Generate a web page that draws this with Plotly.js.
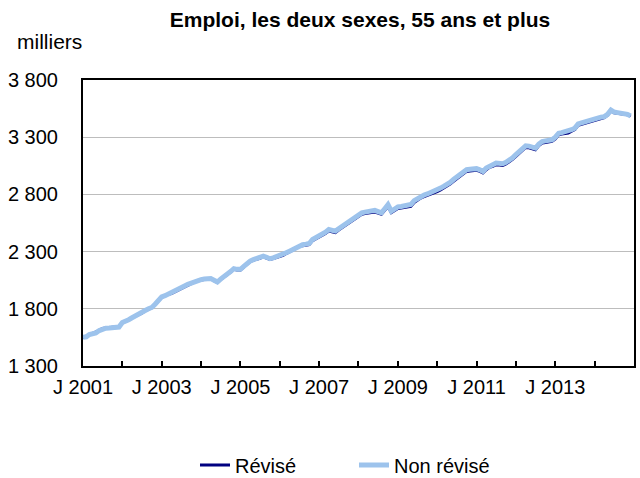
<!DOCTYPE html>
<html>
<head>
<meta charset="utf-8">
<script src="https://cdn.plot.ly/plotly-3.0.1.min.js"></script>
<style>html,body{margin:0;padding:0;background:#fff;}#chart{width:640px;height:478px;}</style>
</head>
<body>
<div id="chart"></div>
<script>
// Monthly values, January 2001 to December 2014 (thousands)
const nonRevise = [
  1550,1555,1575,1580,1590,1610,1625,1630,1632,1638,1636,1640,
  1680,1690,1705,1722,1735,1750,1765,1785,1800,1812,1840,1870,
  1905,1915,1930,1936,1950,1970,1985,2000,2014,2025,2040,2050,
  2055,2060,2062,2064,2050,2034,2060,2087,2105,2125,2151,2145,
  2145,2170,2195,2217,2230,2238,2245,2261,2250,2238,2245,2255,
  2261,2275,2290,2304,2320,2338,2354,2360,2365,2371,2406,2420,
  2440,2455,2470,2493,2488,2479,2500,2520,2545,2566,2585,2600,
  2620,2639,2645,2650,2655,2661,2650,2639,2675,2711,2653,2670,
  2691,2695,2700,2705,2711,2745,2765,2783,2795,2804,2815,2827,
  2840,2855,2870,2885,2905,2930,2952,2975,2995,3016,3020,3022,
  3025,3015,3001,3030,3051,3060,3074,3070,3068,3080,3097,3120,
  3147,3175,3200,3225,3222,3215,3205,3240,3262,3268,3272,3277,
  3300,3335,3340,3345,3349,3365,3379,3416,3425,3435,3445,3451,
  3460,3470,3475,3480,3500,3538,3520,3515,3512,3509,3500,3486
];
const revise = [
  1548,1558,1572,1585,1595,1612,1628,1632,1630,1640,1638,1645,
  1678,1688,1702,1720,1732,1748,1762,1782,1798,1810,1838,1868,
  1900,1912,1926,1934,1948,1966,1982,1998,2010,2022,2038,2048,
  2052,2058,2060,2062,2046,2030,2056,2082,2100,2120,2146,2140,
  2140,2165,2190,2212,2225,2233,2240,2255,2244,2232,2240,2250,
  2255,2268,2283,2296,2312,2330,2345,2352,2356,2362,2396,2410,
  2430,2444,2458,2480,2476,2466,2488,2508,2532,2553,2572,2588,
  2607,2626,2632,2636,2640,2646,2636,2626,2660,2696,2640,2656,
  2676,2680,2686,2690,2696,2730,2750,2768,2780,2790,2800,2812,
  2825,2840,2855,2870,2890,2915,2937,2960,2980,3001,3005,3008,
  3010,3001,2988,3016,3037,3046,3060,3056,3053,3066,3083,3106,
  3133,3160,3186,3210,3208,3200,3190,3226,3248,3254,3258,3263,
  3286,3321,3327,3332,3336,3352,3366,3403,3412,3422,3432,3440,
  3450,3460,3466,3472,3492,3530,3514,3510,3508,3505,3497,3483
];
const startYear = 2001;
const years = [2001,2002,2003,2004,2005,2006,2007,2008,2009,2010,2011,2012,2013,2014,2015];
const xTickLabels = ["J 2001","","J 2003","","J 2005","","J 2007","","J 2009","","J 2011","","J 2013","",""];
const yTickVals = [1300,1800,2300,2800,3300,3800];
const yTickLabels = ["1 300","1 800","2 300","2 800","3 300","3 800"];

const months = revise.map((v,i)=>{
  const y = startYear + Math.floor(i/12);
  const m = (i%12)+1;
  return y + "-" + String(m).padStart(2,"0") + "-01";
});
const xTickVals = years.map(y => y + "-01-01");

const FONT = "Liberation Sans, Arial, sans-serif";

const traces = [
  {x: months, y: revise, type: "scatter", mode: "lines", name: "Révisé",
   line: {color: "#000080", width: 3}},
  {x: months, y: nonRevise, type: "scatter", mode: "lines", name: "Non révisé",
   line: {color: "#9dc3ec", width: 5}}
];

const layout = {
  width: 640, height: 478,
  margin: {l: 83, r: 6, t: 80, b: 112},
  paper_bgcolor: "#fff", plot_bgcolor: "#fff",
  font: {family: FONT, size: 20, color: "#000"},
  title: {text: "<b>Emploi, les deux sexes, 55 ans et plus</b>", font: {family: FONT, size: 21, color: "#000"},
          x: 360/640, xanchor: "center", xref: "container", y: 1 - 20/478, yanchor: "middle", yref: "container"},
  xaxis: {
    type: "date", range: ["2001-01-01", "2015-01-01"],
    tickvals: xTickVals, ticktext: xTickLabels,
    ticks: "inside", ticklen: 5, tickwidth: 2, tickcolor: "#000",
    showline: true, linecolor: "#000", linewidth: 2, mirror: true,
    showgrid: false, zeroline: false, ticklabelstandoff: 2,
    tickfont: {family: FONT, size: 20, color: "#000"}
  },
  yaxis: {
    range: [1300, 3800], tickvals: yTickVals, ticktext: yTickLabels,
    ticks: "", showline: true, linecolor: "#000", linewidth: 2, mirror: true,
    showgrid: true, gridcolor: "#bdbdbd", gridwidth: 1, zeroline: false,
    ticklabelstandoff: 19,
    tickfont: {family: FONT, size: 20, color: "#000"}
  },
  showlegend: true,
  legend: {orientation: "h", xref: "container", yref: "container", x: 195/640, xanchor: "left",
           y: 13/478, yanchor: "middle", entrywidth: 114, entrywidthmode: "pixels",
           font: {family: FONT, size: 20, color: "#000"}, bgcolor: "rgba(0,0,0,0)"},
  annotations: [
    {text: "milliers", xref: "paper", yref: "paper", x: (15-83)/553, xanchor: "left",
     y: 1 + 38/286, yanchor: "middle", showarrow: false, font: {family: FONT, size: 21, color: "#000"}}
  ]
};

Plotly.newPlot("chart", traces, layout, {displayModeBar: false, staticPlot: true});
</script>
</body>
</html>
